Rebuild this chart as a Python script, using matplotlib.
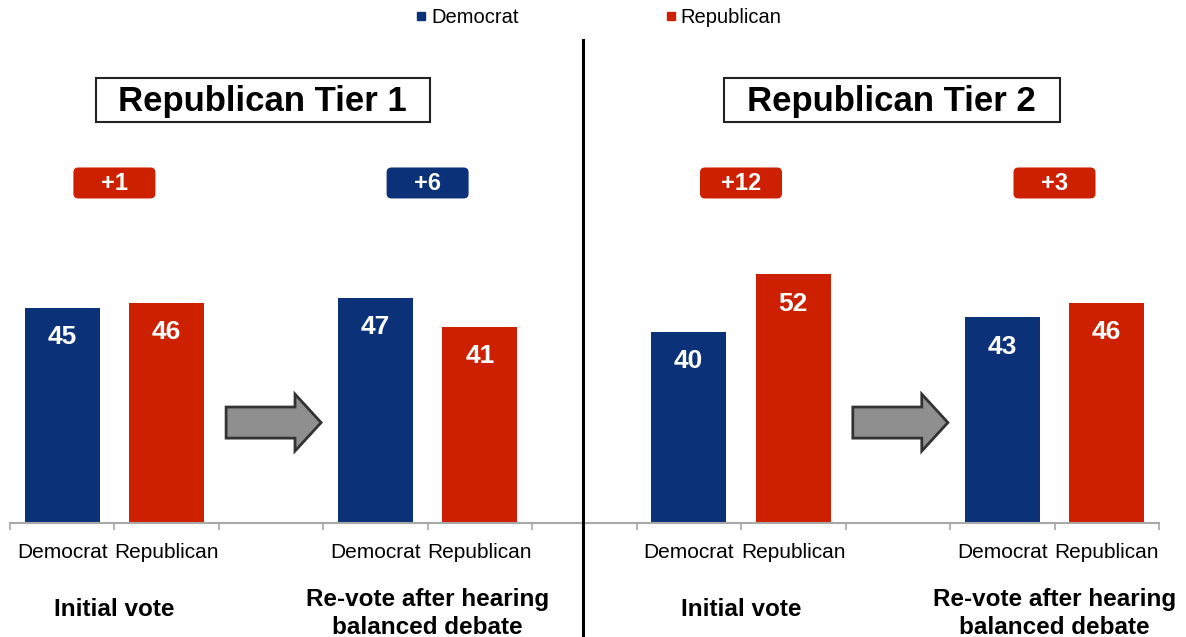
import numpy as np
import matplotlib.pyplot as plt
from matplotlib.patches import FancyBboxPatch, FancyArrow, Rectangle
from matplotlib.lines import Line2D
from matplotlib.transforms import IdentityTransform

plt.rcParams['font.family'] = ['Liberation Sans', 'DejaVu Sans']

# data
parties = ['Democrat', 'Republican']
stages = ['Initial vote', 'Re-vote after hearing\nbalanced debate']
panel_titles = ['Republican Tier 1', 'Republican Tier 2']
tier1_dem = [45, 47]
tier1_rep = [46, 41]
tier2_dem = [40, 43]
tier2_rep = [52, 46]

blue = '#0b3278'
red = '#cc2000'
gray_axis = '#a8a8a8'

W, H = 1186, 637
fig = plt.figure(figsize=(W / 100, H / 100), dpi=100)


def px_box(x0, x1, ybot, ytop):
    return [x0 / W, 1 - ybot / H, (x1 - x0) / W, (ybot - ytop) / H]


def draw_panel(ax, dem, rep, xmin):
    # bars: group g -> democrat at 3g, republican at 3g+1
    for g in range(2):
        ax.bar(3 * g, dem[g], width=0.72, color=blue, zorder=2)
        ax.bar(3 * g + 1, rep[g], width=0.72, color=red, zorder=2)
        for x, v in [(3 * g, dem[g]), (3 * g + 1, rep[g])]:
            ax.annotate(str(v), (x, v), xytext=(0, -21), textcoords='offset points',
                        ha='center', va='center', color='white', fontsize=19,
                        fontweight='bold', zorder=3)

    ax.set_xlim(xmin, 4.5)
    ax.set_ylim(0, 78)
    ax.set_yticks([])
    ax.set_xticks([0, 1, 3, 4])
    ax.set_xticklabels(parties * 2, fontsize=15)
    ax.tick_params(axis='x', which='major', length=0, pad=14.5)
    ax.set_xticks(np.arange(-0.5, 5, 1), minor=True)
    ax.tick_params(axis='x', which='minor', length=5, width=1.2, color=gray_axis)
    for s in ['left', 'right', 'top']:
        ax.spines[s].set_visible(False)
    ax.spines['bottom'].set_color(gray_axis)
    ax.spines['bottom'].set_linewidth(1.5)

    # stage labels under each group
    for g in range(2):
        ax.text(3 * g + 0.5, -0.232 - 0.01 * g, stages[g],
                transform=ax.get_xaxis_transform(),
                ha='center', va='center', fontsize=17.5, fontweight='bold',
                linespacing=1.25)

    # margin badges
    for g in range(2):
        margin = rep[g] - dem[g]
        col = red if margin > 0 else blue
        cx, cy = ax.transData.transform((3 * g + 0.5, 71))
        badge = FancyBboxPatch((cx - 41, cy - 15), 82, 31,
                               boxstyle='round,pad=0,rounding_size=5',
                               transform=IdentityTransform(), fc=col, ec='none',
                               clip_on=False, zorder=4)
        ax.add_patch(badge)
        ax.text(3 * g + 0.5, 71, '+%d' % abs(margin), ha='center', va='center',
                color='white', fontsize=17, fontweight='bold', zorder=5)

    # arrow between initial vote and re-vote
    ax.add_patch(FancyArrow(1.57, 21, 0.91, 0, width=6.5, head_width=11.9,
                            head_length=0.25, length_includes_head=True,
                            fc='#8f8f8f', ec='#333333', lw=2, zorder=2))


ax1 = fig.add_axes(px_box(10, 532, 523, 150))
ax2 = fig.add_axes(px_box(532, 1159, 523, 150))
draw_panel(ax1, tier1_dem, tier1_rep, -0.5)
draw_panel(ax2, tier2_dem, tier2_rep, -1.5)

# title boxes
for (x0, x1), title in zip([(96, 430), (724, 1060)], panel_titles):
    fig.add_artist(Rectangle((x0 / W, 1 - 122 / H), (x1 - x0) / W, 44 / H,
                             transform=fig.transFigure, fc='white', ec='#222222', lw=1.5))
    fig.text((x0 + x1) / 2 / W - 1 / W, 1 - 101 / H, title, ha='center', va='center',
             fontsize=25, fontweight='bold')

# divider
fig.add_artist(Line2D([583 / W, 583 / W], [0, 1 - 40 / H], color='black', lw=2.2))

# legend
handles = [Line2D([], [], marker='s', ls='none', color=blue, markersize=5.5),
           Line2D([], [], marker='s', ls='none', color=red, markersize=5.5)]
fig.legend(handles, parties, loc='center', bbox_to_anchor=(0.505, 0.973), ncol=2,
           frameon=False, fontsize=14.5, handlelength=0.5, handletextpad=0.25,
           columnspacing=7.3)

fig.savefig('out.png', dpi=100)
